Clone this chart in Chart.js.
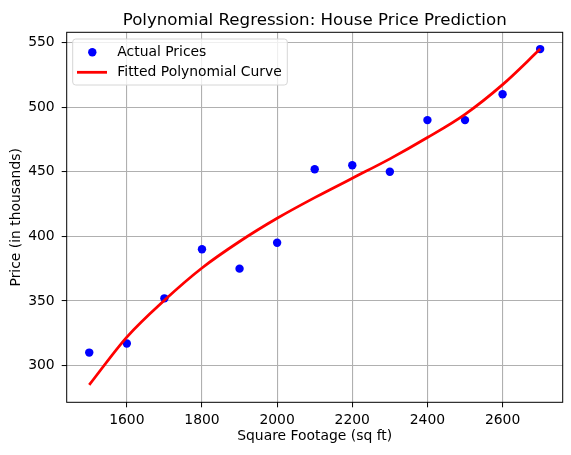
<!DOCTYPE html>
<html>
<head>
<meta charset="utf-8">
<title>Polynomial Regression: House Price Prediction</title>
<script src="https://cdn.jsdelivr.net/npm/chart.js@4.4.0/dist/chart.umd.min.js"></script>
<style>
  html, body { margin: 0; padding: 0; background: #fff; }
  canvas { display: block; }
</style>
</head>
<body>
<canvas id="chart" width="571" height="455"></canvas>
<script>
const sqFootage = [1500, 1600, 1700, 1800, 1900, 2000, 2100, 2200, 2300, 2400, 2500, 2600, 2700];
const actualPrices = [310, 317, 352, 390, 375, 395, 452, 455, 450, 490, 490, 510, 545];

// fitted curve
const curveFootage = [1500, 1600, 1700, 1800, 1900, 2000, 2100, 2200, 2300, 2400, 2500, 2600, 2700];
const curvePrices = [285, 322, 350.5, 375.5, 396, 414, 430, 445, 460, 476.5, 494.5, 517.5, 545];

const xTicks = [1600, 1800, 2000, 2200, 2400, 2600];
const yTicks = [300, 350, 400, 450, 500, 550];

const FONT = 'DejaVu Sans';
Chart.defaults.font.family = FONT;
Chart.defaults.font.size = 13.9;
Chart.defaults.color = '#000';

// black box round the plot area, like matplotlib spines
const framePlugin = {
    id: 'frame',
    afterDatasetsDraw(chart) {
        const a = chart.chartArea;
        const ctx = chart.ctx;
        ctx.save();
        ctx.strokeStyle = '#000';
        ctx.lineWidth = 1;
        ctx.strokeRect(a.left, a.top, a.right - a.left, a.bottom - a.top);
        ctx.restore();
    }
};

// title centred over the plot area
const titlePlugin = {
    id: 'plotTitle',
    afterDraw(chart) {
        const a = chart.chartArea;
        const ctx = chart.ctx;
        ctx.save();
        ctx.font = '16.67px "' + FONT + '"';
        ctx.fillStyle = '#000';
        ctx.textAlign = 'center';
        ctx.textBaseline = 'alphabetic';
        ctx.fillText('Polynomial Regression: House Price Prediction', (a.left + a.right) / 2, 25);
        ctx.restore();
    }
};

// legend box in the upper left corner of the plot
const legendPlugin = {
    id: 'innerLegend',
    afterDraw(chart) {
        const a = chart.chartArea;
        const ctx = chart.ctx;
        const sets = chart.data.datasets;
        const x0 = a.left + 6, y0 = a.top + 6.7;
        const w = 214.6, h = 46;
        ctx.save();
        ctx.beginPath();
        ctx.roundRect(x0, y0, w, h, 3);
        ctx.fillStyle = 'rgba(255,255,255,0.8)';
        ctx.fill();
        ctx.strokeStyle = '#d6d6d6';
        ctx.lineWidth = 1;
        ctx.stroke();

        // scatter entry
        ctx.beginPath();
        ctx.arc(x0 + 19.6, y0 + 13.3, 4.2, 0, Math.PI * 2);
        ctx.fillStyle = sets[0].backgroundColor;
        ctx.fill();
        // line entry
        ctx.beginPath();
        ctx.moveTo(x0 + 4.3, y0 + 33.3);
        ctx.lineTo(x0 + 34.3, y0 + 33.3);
        ctx.strokeStyle = sets[1].borderColor;
        ctx.lineWidth = 2.78;
        ctx.stroke();

        ctx.font = '13.9px "' + FONT + '"';
        ctx.fillStyle = '#000';
        ctx.textAlign = 'left';
        ctx.textBaseline = 'middle';
        ctx.fillText(sets[0].label, x0 + 44.6, y0 + 13.3);
        ctx.fillText(sets[1].label, x0 + 44.6, y0 + 33.3);
        ctx.restore();
    }
};

const scatterPoints = sqFootage.map((x, i) => ({ x: x, y: actualPrices[i] }));
const curvePoints = curveFootage.map((x, i) => ({ x: x, y: curvePrices[i] }));

const gridStyle = { color: '#b0b0b0', lineWidth: 1.1, tickColor: '#000', tickLength: 5, tickWidth: 1 };

new Chart(document.getElementById('chart'), {
    type: 'scatter',
    data: {
        datasets: [
            {
                label: 'Actual Prices',
                data: scatterPoints,
                backgroundColor: '#0000ff',
                borderWidth: 0,
                pointRadius: 4.2,
                pointHoverRadius: 4.2,
                order: 2
            },
            {
                type: 'line',
                label: 'Fitted Polynomial Curve',
                data: curvePoints,
                borderColor: '#ff0000',
                borderWidth: 2.78,
                pointRadius: 0,
                fill: false,
                cubicInterpolationMode: 'monotone',
                order: 1
            }
        ]
    },
    options: {
        responsive: false,
        animation: false,
        devicePixelRatio: 1,
        layout: { padding: { top: 32.3, right: 8.3, left: 0, bottom: 0 } },
        plugins: {
            legend: { display: false },
            tooltip: { enabled: false }
        },
        scales: {
            x: {
                type: 'linear',
                min: 1440,
                max: 2760,
                afterBuildTicks(scale) {
                    scale.ticks = xTicks.map(v => ({ value: v }));
                },
                afterFit(scale) {
                    scale.height = 52.7;
                },
                ticks: { padding: 5, color: '#000', callback: v => String(v) },
                grid: gridStyle,
                border: { display: false },
                title: {
                    display: true,
                    text: 'Square Footage (sq ft)',
                    color: '#000',
                    padding: { top: 0, bottom: 10 }
                }
            },
            y: {
                type: 'linear',
                min: 271.5,
                max: 558,
                afterBuildTicks(scale) {
                    scale.ticks = yTicks.map(v => ({ value: v }));
                },
                afterFit(scale) {
                    scale.width = 66.7;
                },
                ticks: { padding: 7, color: '#000', callback: v => String(v) },
                grid: gridStyle,
                border: { display: false },
                title: {
                    display: true,
                    text: 'Price (in thousands)',
                    color: '#000',
                    padding: { top: 8, bottom: 0 }
                }
            }
        }
    },
    plugins: [framePlugin, titlePlugin, legendPlugin]
});
</script>
</body>
</html>
